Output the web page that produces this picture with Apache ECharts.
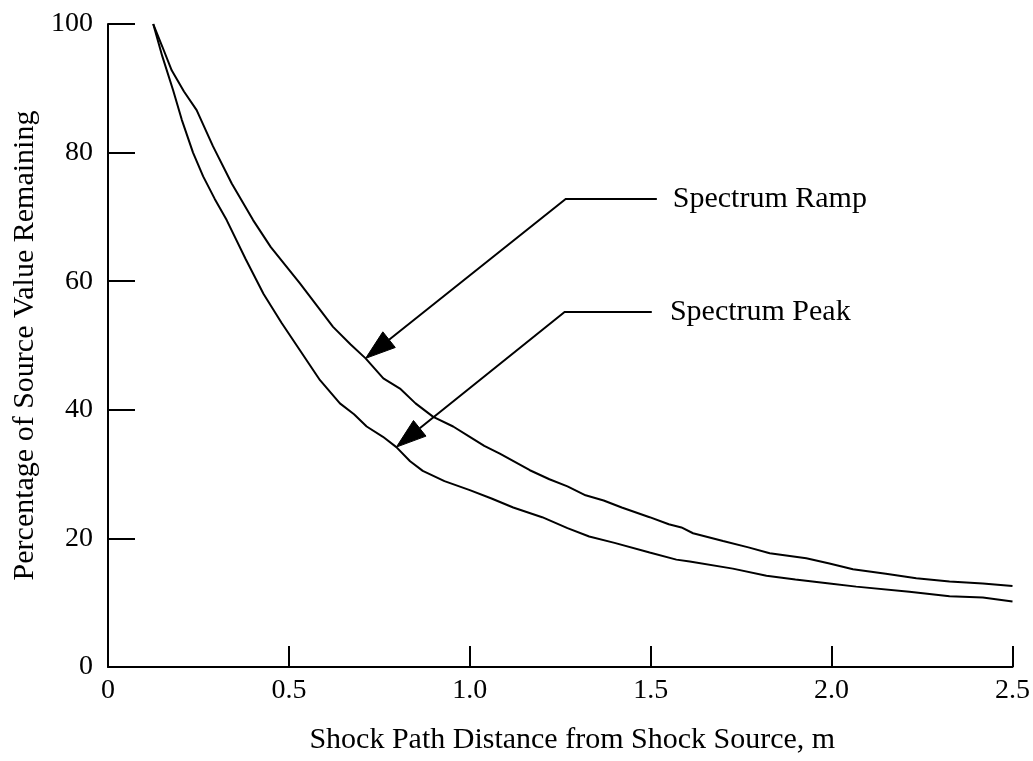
<!DOCTYPE html>
<html>
<head>
<meta charset="utf-8">
<script src="https://cdn.jsdelivr.net/npm/echarts@6/dist/echarts.min.js"></script>
<style>
  html, body { margin: 0; padding: 0; background: #fff; }
  #chart { width: 1033px; height: 761px; }
</style>
</head>
<body>
<div id="chart"></div>
<script>
// Remaining percentage of the source value versus shock path distance (m)
const rampData = [
  [0.125, 100], [0.15, 96.5], [0.176, 92.8], [0.21, 89.5], [0.245, 86.6],
  [0.29, 81.0], [0.342, 75.2], [0.401, 69.5], [0.45, 65.3], [0.5, 61.8],
  [0.53, 59.7], [0.58, 56.0], [0.622, 52.9], [0.67, 50.2], [0.712, 48.0],
  [0.761, 44.9], [0.807, 43.3], [0.85, 41.0], [0.899, 38.9], [0.954, 37.4],
  [1.0, 35.8], [1.04, 34.4], [1.083, 33.2], [1.166, 30.6], [1.22, 29.2],
  [1.27, 28.1], [1.32, 26.7], [1.37, 25.9], [1.42, 24.8], [1.497, 23.3],
  [1.55, 22.2], [1.585, 21.7], [1.617, 20.8], [1.7, 19.6], [1.77, 18.6],
  [1.829, 17.7], [1.93, 16.9], [1.994, 16.1], [2.059, 15.2], [2.15, 14.5],
  [2.234, 13.8], [2.326, 13.3], [2.418, 13.0], [2.5, 12.6]
];
const peakData = [
  [0.125, 100], [0.15, 95.0], [0.18, 89.7], [0.204, 85.1], [0.235, 80.0],
  [0.263, 76.3], [0.295, 72.8], [0.328, 69.5], [0.38, 63.5], [0.43, 58.0],
  [0.48, 53.5], [0.53, 49.3], [0.586, 44.6], [0.641, 41.0], [0.68, 39.3],
  [0.715, 37.4], [0.76, 35.8], [0.797, 34.2], [0.835, 32.0], [0.87, 30.5],
  [0.93, 28.9], [1.0, 27.5], [1.06, 26.2], [1.12, 24.8], [1.2, 23.3],
  [1.27, 21.6], [1.33, 20.3], [1.4, 19.3], [1.497, 17.8], [1.571, 16.7],
  [1.608, 16.4], [1.727, 15.3], [1.82, 14.2], [1.9, 13.6], [1.994, 13.0],
  [2.068, 12.5], [2.215, 11.7], [2.326, 11.0], [2.418, 10.8], [2.5, 10.2]
];

// Tick labels
const xTickLabels = { 0: '0', 0.5: '0.5', 1: '1.0', 1.5: '1.5', 2: '2.0', 2.5: '2.5' };
const yTicks = [0, 20, 40, 60, 80, 100];

// Callout leaders, in data units: arrow tip on the curve, elbow, end of the horizontal run
const rampCallout = { name: 'Spectrum Ramp', tip: [0.712, 48.0], elbow: [1.265, 72.8], end: [1.517, 72.8], textAt: [1.561, 72.8] };
const peakCallout = { name: 'Spectrum Peak', tip: [0.797, 34.2], elbow: [1.262, 55.2], end: [1.503, 55.2], textAt: [1.553, 55.2] };

const FONT = '"Liberation Serif", "Times New Roman", serif';
const INK = '#000';

const chart = echarts.init(document.getElementById('chart'), null, { renderer: 'canvas' });

const option = {
  animation: false,
  backgroundColor: '#fff',
  grid: { left: 108, right: 20, top: 24, bottom: 94, containLabel: false },
  xAxis: {
    type: 'value',
    min: 0, max: 2.5, interval: 0.5,
    name: 'Shock Path Distance from Shock Source, m',
    nameLocation: 'middle',
    nameGap: 58,
    nameTextStyle: { fontFamily: FONT, fontSize: 30, color: INK, padding: [0, 0, 0, 24] },
    axisLine: { show: true, onZero: false, lineStyle: { color: INK, width: 2 } },
    axisTick: { show: true, inside: true, length: 21, lineStyle: { color: INK, width: 2 } },
    axisLabel: {
      margin: 10, fontFamily: FONT, fontSize: 28, color: INK,
      formatter: v => xTickLabels[v] !== undefined ? xTickLabels[v] : ''
    },
    splitLine: { show: false }
  },
  yAxis: {
    type: 'value',
    min: yTicks[0], max: yTicks[yTicks.length - 1], interval: 20,
    name: 'Percentage of Source Value Remaining',
    nameLocation: 'middle',
    nameGap: 66,
    nameTextStyle: { fontFamily: FONT, fontSize: 30, color: INK },
    axisLine: { show: true, onZero: false, lineStyle: { color: INK, width: 2 } },
    axisTick: { show: true, inside: true, length: 27, lineStyle: { color: INK, width: 2 } },
    axisLabel: { margin: 15, fontFamily: FONT, fontSize: 28, color: INK },
    splitLine: { show: false }
  },
  series: [
    {
      name: 'Spectrum Ramp', type: 'line', data: rampData,
      showSymbol: false, smooth: false,
      lineStyle: { color: INK, width: 2 }
    },
    {
      name: 'Spectrum Peak', type: 'line', data: peakData,
      showSymbol: false, smooth: false,
      lineStyle: { color: INK, width: 2 }
    }
  ]
};
chart.setOption(option);

// Build leader lines with filled arrowheads and their text labels
function calloutGraphics(c) {
  const toPx = p => chart.convertToPixel({ gridIndex: 0 }, p);
  const tip = toPx(c.tip), elbow = toPx(c.elbow), end = toPx(c.end), txt = toPx(c.textAt);
  const dx = tip[0] - elbow[0], dy = tip[1] - elbow[1];
  const len = Math.hypot(dx, dy);
  const ux = dx / len, uy = dy / len;
  const headLen = 30, headHalf = 10;
  const base = [tip[0] - ux * headLen, tip[1] - uy * headLen];
  const px = -uy, py = ux;
  return [
    {
      type: 'polyline',
      shape: { points: [end, elbow, base] },
      style: { stroke: INK, lineWidth: 2, fill: null },
      silent: true
    },
    {
      type: 'polygon',
      shape: { points: [tip, [base[0] + px * headHalf, base[1] + py * headHalf], [base[0] - px * headHalf, base[1] - py * headHalf]] },
      style: { fill: INK, stroke: INK, lineWidth: 1 },
      silent: true
    },
    {
      type: 'text',
      x: txt[0], y: txt[1],
      style: { text: c.name, font: '30px ' + FONT, fill: INK, align: 'left', verticalAlign: 'middle' },
      silent: true
    }
  ];
}

chart.setOption({ graphic: { elements: [...calloutGraphics(rampCallout), ...calloutGraphics(peakCallout)] } });
</script>
</body>
</html>
